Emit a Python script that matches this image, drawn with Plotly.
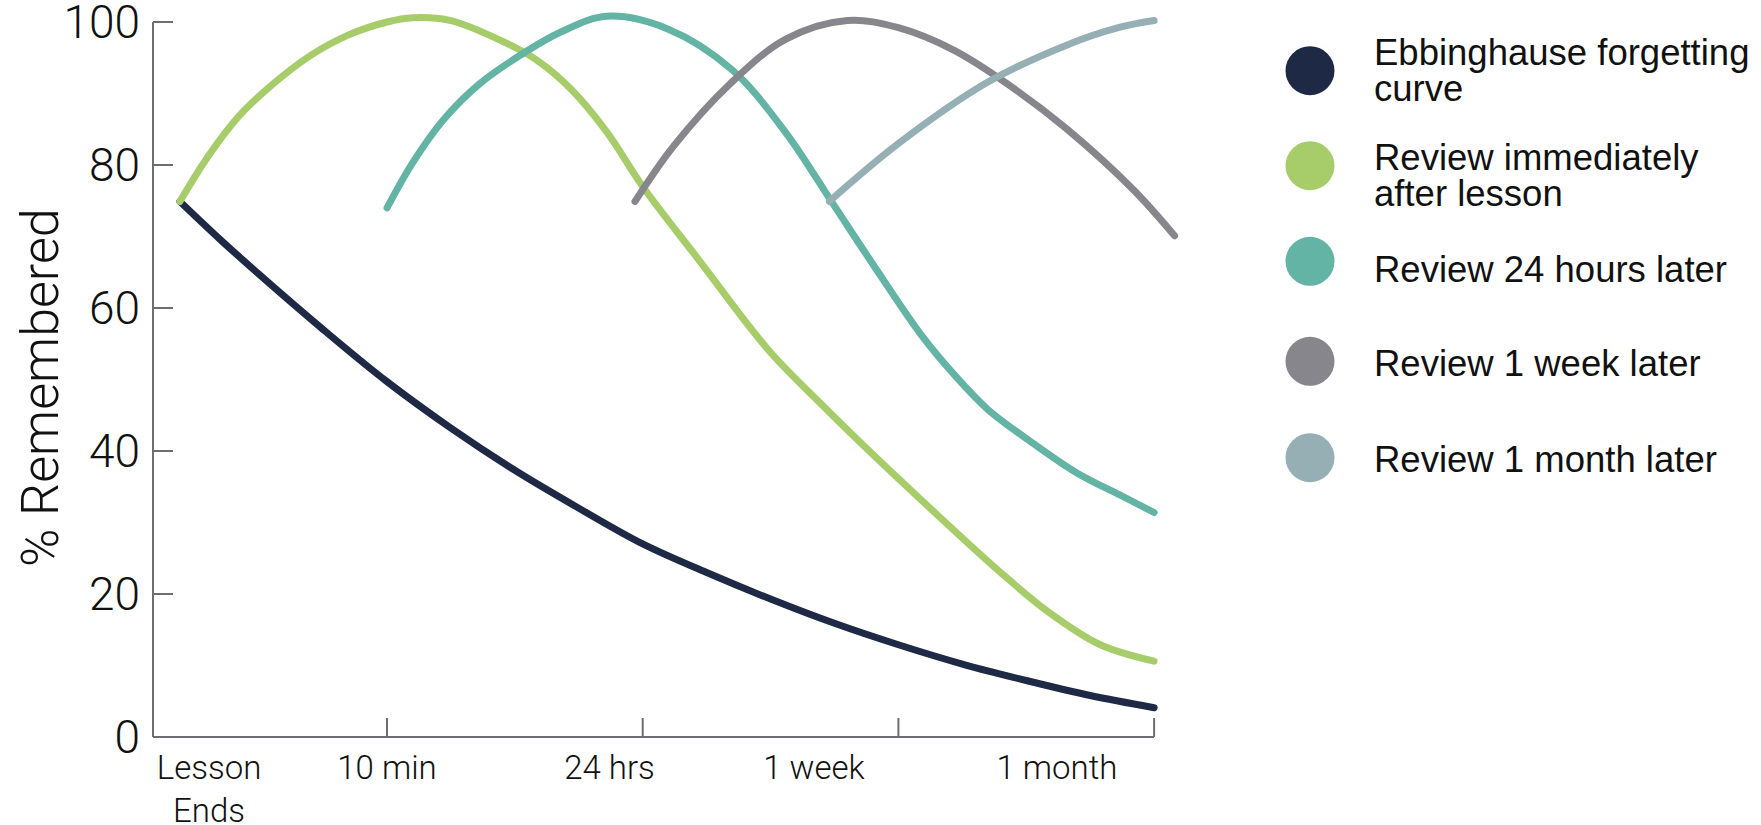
import plotly.graph_objects as go

# ---------------- data ----------------
time_labels = ["Lesson<br>Ends", "10 min", "24 hrs", "1 week", "1 month"]
time_ticks = [1, 2, 3, 4]
pct_ticks = [0, 20, 40, 60, 80, 100]

series_names = [
    "Ebbinghause forgetting<br>curve",
    "Review immediately<br>after lesson",
    "Review 24 hours later",
    "Review 1 week later",
    "Review 1 month later",
]

ebb_x = [0.19, 0.35, 0.5, 0.75, 1.0, 1.25, 1.5, 1.75, 2.0, 2.25, 2.5, 2.75, 3.0, 3.25, 3.5, 3.75, 4.0]
ebb_y = [74.9, 69.5, 64.7, 57.0, 49.7, 43.2, 37.3, 32.0, 27.0, 23.0, 19.3, 15.9, 12.9, 10.2, 7.9, 5.8, 4.1]

imm_x = [0.19, 0.30, 0.42, 0.55, 0.70, 0.85, 1.0, 1.1, 1.25, 1.44, 1.58, 1.72, 1.86, 2.0,
         2.22, 2.49, 2.70, 2.88, 3.10, 3.40, 3.59, 3.79, 4.0]
imm_y = [74.9, 81.2, 86.8, 91.2, 95.3, 98.2, 100.0, 100.6, 100.2, 97.5, 94.8, 90.6, 84.6, 77.0,
         66.7, 54.2, 46.5, 40.2, 32.8, 23.0, 17.4, 12.9, 10.6]

day_x = [1.0, 1.1, 1.22, 1.36, 1.51, 1.68, 1.86, 2.1, 2.35, 2.56, 2.74, 2.91, 3.09, 3.22,
         3.35, 3.53, 3.70, 3.88, 4.0]
day_y = [74.0, 80.3, 86.3, 91.3, 95.1, 98.6, 100.8, 99.0, 93.3, 84.5, 74.8, 65.6, 56.2, 50.6,
         45.8, 41.0, 36.9, 33.6, 31.4]

week_x = [1.97, 2.12, 2.34, 2.56, 2.80, 3.0, 3.22, 3.44, 3.66, 3.92, 4.08]
week_y = [74.9, 82.6, 91.3, 97.6, 100.2, 99.2, 96.0, 91.0, 85.0, 76.5, 70.1]

month_x = [2.73, 3.0, 3.35, 3.66, 3.86, 4.0]
month_y = [74.9, 83.0, 91.6, 96.8, 99.2, 100.2]

# ---------------- styles / layout ----------------
series_colors = ["#1e2a45", "#a7cd6b", "#64b4a6", "#87868d", "#96afb5"]
AXIS_COLOR = "#6d6e71"
LIGHT_FONT = "Roboto, Inter, Liberation Sans, sans-serif"
LEGEND_FONT = "Liberation Sans, Arial, sans-serif"

W, H = 1761, 825
ML, MR, MT, MB = 153, 576, 8, 88
PW, PH = W - ML - MR, H - MT - MB
UNIT_X = 255.7          # pixels per x step
UNIT_Y = 7.15           # pixels per percent
X_LEFT = 1 - (387 - ML) / UNIT_X
X_RIGHT = X_LEFT + PW / UNIT_X
Y_TOP = PH / UNIT_Y

label_pos = [0.304, 1.0, 1.87, 2.67, 3.62]   # where tick labels sit along x


def paper_x(px):
    return (px - ML) / PW


def paper_y(py):
    return (H - MB - py) / PH


fig = go.Figure()
for xs, ys, name, col in zip(
    [ebb_x, imm_x, day_x, week_x, month_x],
    [ebb_y, imm_y, day_y, week_y, month_y],
    series_names, series_colors,
):
    fig.add_trace(go.Scatter(
        x=xs, y=ys, mode="lines", name=name.replace("<br>", " "),
        line=dict(color=col, width=7, shape="spline", smoothing=1.0),
        showlegend=False,
    ))

shapes = [
    # x axis line (ends at last tick)
    dict(type="line", xref="paper", yref="paper",
         x0=0, x1=(4 - X_LEFT) / (X_RIGHT - X_LEFT), y0=0, y1=0,
         line=dict(color=AXIS_COLOR, width=2)),
    # y axis line (ends at 100)
    dict(type="line", xref="paper", yref="paper",
         x0=0, x1=0, y0=0, y1=100 / Y_TOP,
         line=dict(color=AXIS_COLOR, width=2)),
]
# x tick marks pointing up from the axis
for t in time_ticks:
    shapes.append(dict(type="line", xref="x", yref="paper",
                       x0=t, x1=t, y0=0, y1=19 / PH,
                       line=dict(color=AXIS_COLOR, width=2)))

annotations = [
    dict(text="% Remembered", textangle=-90, xref="paper", yref="paper",
         x=paper_x(40.5), y=paper_y(387.5), xanchor="center", yanchor="middle",
         showarrow=False, font=dict(family=LIGHT_FONT, size=52, color="#111111", weight=300)),
]

# manual legend with big dots
legend_centers = [70.7, 165.7, 261.3, 361.3, 457.7]
legend_text_shift = [0, 10, 8, 2, 2]
LEG_LINE_GAP = 36
for name, col, cy, sh in zip(series_names, series_colors, legend_centers, legend_text_shift):
    shapes.append(dict(
        type="circle", xref="paper", yref="paper",
        xsizemode="pixel", ysizemode="pixel",
        xanchor=paper_x(1310), yanchor=paper_y(cy),
        x0=-24.5, x1=24.5, y0=-24.5, y1=24.5,
        fillcolor=col, line=dict(width=0),
    ))
    lines = name.split("<br>")
    n = len(lines)
    for i, ln in enumerate(lines):
        ly = cy + sh + (i - (n - 1) / 2) * LEG_LINE_GAP
        annotations.append(dict(
            text=ln, xref="paper", yref="paper", x=paper_x(1372), y=paper_y(ly),
            xanchor="left", yanchor="middle", showarrow=False,
            font=dict(family=LEGEND_FONT, size=36.5, color="#111111"),
        ))

fig.update_layout(
    width=W, height=H,
    margin=dict(l=ML, r=MR, t=MT, b=MB, autoexpand=False),
    plot_bgcolor="white", paper_bgcolor="white",
    showlegend=False,
    shapes=shapes,
    annotations=annotations,
    xaxis=dict(
        range=[X_LEFT, X_RIGHT], tickmode="array",
        tickvals=label_pos, ticktext=time_labels,
        ticks="", showline=False, showgrid=False, zeroline=False,
        tickfont=dict(family=LIGHT_FONT, size=33, color="#111111", weight=300),
        automargin=False, ticklabelstandoff=8, ticklabeloverflow="allow",
    ),
    yaxis=dict(
        range=[0, Y_TOP], tickmode="array", tickvals=pct_ticks,
        ticks="inside", ticklen=20, tickwidth=2, tickcolor=AXIS_COLOR,
        showline=False, showgrid=False, zeroline=False,
        tickfont=dict(family=LIGHT_FONT, size=46, color="#111111", weight=300),
        automargin=False, ticklabelstandoff=12, ticklabeloverflow="allow",
    ),
)

POST = (
    "document.body.style.margin='0';"
    "var s=document.createElement('style');"
    "s.textContent='.scatterlayer path.js-line{stroke-linecap:round;stroke-linejoin:round;}';"
    "document.head.appendChild(s);"
)

fig.write_html("out.html", config={"displayModeBar": False}, post_script=POST)
